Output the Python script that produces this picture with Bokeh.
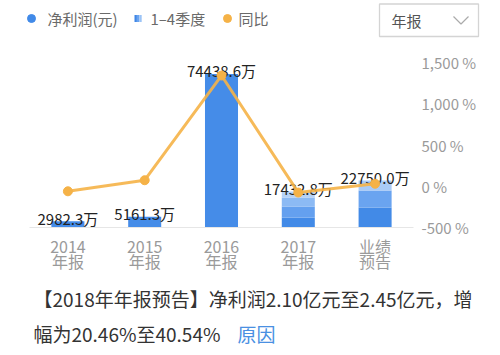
from bokeh.plotting import figure
from bokeh.layouts import column
from bokeh.models import FactorRange, Range1d, LinearAxis, FixedTicker
from bokeh.core.properties import value
from bokeh.embed import file_html
from bokeh.resources import INLINE

# ---- data ----
categories = ["2014\n年报", "2015\n年报", "2016\n年报", "2017\n年报", "业绩\n预告"]
net_profit = [2982.3, 5161.3, 74438.6, 17432.8, 22750.0]   # 万元
yoy_pct = [-61.0, 73.1, 1342.2, -76.6, 30.5]
quarters_2017 = [4850, 5330, 4360, 2893]
quarters_forecast = [9700, 8240, 4810]
pct_ticks = [-500, 0, 500, 1000, 1500]
pct_tick_labels = ["-500 %", "0 %", "500 %", "1,000 %", "1,500 %"]
legend_labels = ["净利润(元)", "1–4季度", "同比"]
period_choice = "年报"
note_line1 = "【2018年年报预告】净利润2.10亿元至2.45亿元，增"
note_line2 = "幅为20.46%至40.54% "
note_link = "原因"

FONT = "Noto Sans CJK SC"
BLUE = "#458ce8"
ORANGE = "#f5b247"
shades_2017 = ["#428ae7", "#64a0ef", "#8cbaf4", "#b5d2f8"]
shades_forecast = ["#428ae7", "#6aa4f0", "#a9cbf7"]
W = 492


def no_align(f):
    try:
        f.frame_align = False
    except AttributeError:
        pass


def blank(height):
    """A figure whose frame fills it, with pixel coordinates (y downwards)."""
    f = figure(width=W, height=height, x_range=Range1d(0, W), y_range=Range1d(height, 0),
               x_axis_location=None, y_axis_location=None,
               output_backend="svg", toolbar_location=None,
               min_border=0, min_border_left=0, min_border_right=0,
               min_border_top=0, min_border_bottom=0)
    f.outline_line_color = None
    f.xgrid.visible = False
    f.ygrid.visible = False
    no_align(f)
    return f


def txt(f, x, y, s, size, color, align="left"):
    f.text(x=[x], y=[y], text=[s], text_font=value(FONT), text_font_size=size,
           text_color=color, text_align=align, text_baseline="middle")


# ---------------- header: legend + dropdown ----------------
head = blank(40)
head.scatter(x=[31], y=[18], size=8, color="#418ae8")
txt(head, 47, 18, legend_labels[0], "15px", "#6a6a6a")
for i, c in enumerate(["#3f86e6", "#6aa4f0", "#9cc4f6"]):
    head.quad(left=[134 + 2.4 * i], right=[136.4 + 2.4 * i], bottom=[21.5], top=[14.5],
              color=c, line_color=None)
txt(head, 150, 18, legend_labels[1], "15px", "#6a6a6a")
head.scatter(x=[227], y=[18], size=8, color=ORANGE)
txt(head, 238, 18, legend_labels[2], "15px", "#6a6a6a")

head.quad(left=[379], right=[478], top=[3.5], bottom=[36], fill_color="white",
          line_color="#d4d4d4", line_width=1.3)
txt(head, 391, 20, period_choice, "15px", "#555555")
head.line(x=[453, 460.5, 468], y=[16, 23.5, 16], line_color="#aaaaaa", line_width=1.2)

# ---------------- main chart ----------------
p = figure(width=W, height=243,
           x_range=FactorRange(factors=categories),
           y_range=Range1d(0, 80000),
           y_axis_location=None,
           output_backend="svg", toolbar_location=None,
           min_border_left=29, min_border_right=79,
           min_border_top=22, min_border_bottom=56)
p.outline_line_color = None
p.xgrid.visible = False
p.ygrid.visible = False
p.extra_y_ranges = {"pct": Range1d(-500, 1500)}
no_align(p)

p.vbar(x=categories[:3], top=net_profit[:3], width=0.43, color=BLUE, line_color=None)


def stacked(cat, parts, colors):
    bottom = 0
    for v, c in zip(parts, colors):
        p.vbar(x=[cat], bottom=[bottom], top=[bottom + v], width=0.43, color=c, line_color=None)
        bottom += v


stacked(categories[3], quarters_2017, shades_2017)
stacked(categories[4], quarters_forecast, shades_forecast)

p.text(x=categories, y=net_profit, text=[f"{v:.1f}万" for v in net_profit],
       text_align="center", text_baseline="middle", y_offset=-3,
       text_font=value(FONT), text_font_size="15px", text_color="#222222")

p.line(x=categories, y=yoy_pct, y_range_name="pct", line_color=ORANGE, line_width=3, line_alpha=0.9)
p.scatter(x=categories, y=yoy_pct, y_range_name="pct", size=9, fill_color=ORANGE, line_color=ORANGE)

xa = p.xaxis[0]
xa.major_tick_line_color = None
xa.minor_tick_line_color = None
xa.axis_line_color = "#e6e6e6"
xa.major_label_text_color = "#9a9a9a"
xa.major_label_text_font = FONT
xa.major_label_text_font_size = "16px"
xa.major_label_text_line_height = 0.66
xa.major_label_standoff = 0

ra = LinearAxis(y_range_name="pct", ticker=FixedTicker(ticks=pct_ticks),
                major_label_overrides=dict(zip(pct_ticks, pct_tick_labels)))
ra.axis_line_color = None
ra.major_tick_line_color = None
ra.minor_tick_line_color = None
ra.major_tick_out = 0
ra.major_tick_in = 0
ra.major_label_standoff = 8
ra.major_label_text_color = "#9a9a9a"
ra.major_label_text_font = FONT
ra.major_label_text_font_size = "15px"
p.add_layout(ra, "right")

# ---------------- footnote ----------------
foot = blank(64)
txt(foot, 33, 15, note_line1, "19px", "#333333")
txt(foot, 33, 50, note_line2, "19px", "#333333")
txt(foot, 237, 50, note_link, "19px", "#4a90e2")

layout = column(head, p, foot, spacing=0)
open("out.html", "w").write(file_html(layout, INLINE))
